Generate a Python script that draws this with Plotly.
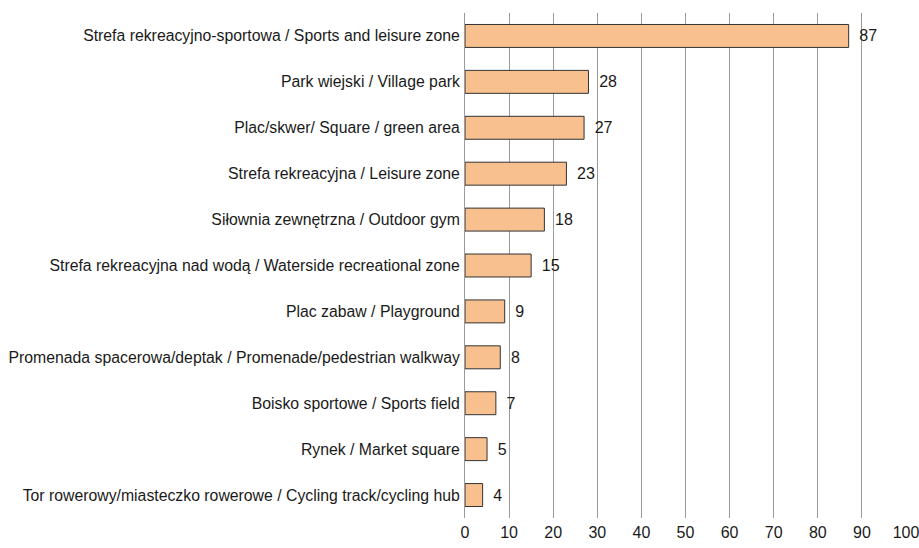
import plotly.graph_objects as go

categories = [
    "Strefa rekreacyjno-sportowa / Sports and leisure zone",
    "Park wiejski / Village park",
    "Plac/skwer/ Square / green area",
    "Strefa rekreacyjna / Leisure zone",
    "Siłownia zewnętrzna / Outdoor gym",
    "Strefa rekreacyjna nad wodą / Waterside recreational zone",
    "Plac zabaw / Playground",
    "Promenada spacerowa/deptak / Promenade/pedestrian walkway",
    "Boisko sportowe / Sports field",
    "Rynek / Market square",
    "Tor rowerowy/miasteczko rowerowe / Cycling track/cycling hub",
]
values = [87, 28, 27, 23, 18, 15, 9, 8, 7, 5, 4]
x_ticks = [0, 10, 20, 30, 40, 50, 60, 70, 80, 90, 100]

fig = go.Figure(go.Bar(
    y=categories, x=values, orientation="h",
    marker=dict(color="#F7C08E", line=dict(color="#333333", width=1)),
    width=0.5,
    text=[" \u2009" + str(v) for v in values], textposition="outside",
    textfont=dict(color="#1a1a1a", size=16),
    cliponaxis=False,
    hoverinfo="skip",
))
fig.update_layout(
    width=919, height=548,
    margin=dict(l=465, r=13, t=13, b=30, autoexpand=False),
    paper_bgcolor="white", plot_bgcolor="white",
    font=dict(family="Liberation Sans, Arial, sans-serif", size=16, color="#1a1a1a"),
    showlegend=False,
    bargap=0.5,
)
fig.update_xaxes(range=[0, 100], tickvals=x_ticks, showgrid=True, gridcolor="#9a9a9a",
                 gridwidth=1, zeroline=False, showline=False, ticks="", ticklen=0,
                 ticklabelstandoff=3, automargin=False, ticklabeloverflow="allow")
fig.update_yaxes(autorange="reversed", showline=True, linecolor="#9a9a9a", linewidth=1,
                 ticks="", ticklabelstandoff=1, showgrid=False, automargin=False,
                 tickfont=dict(size=15.8))
fig.write_html("out.html",
               config={"displayModeBar": False},
               post_script="document.body.style.margin='0px';document.body.style.overflow='hidden';")
